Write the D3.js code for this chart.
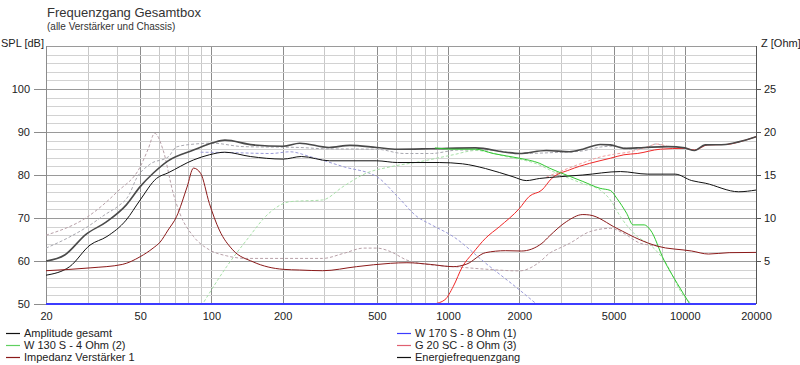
<!DOCTYPE html>
<html><head><meta charset="utf-8">
<script src="https://cdn.jsdelivr.net/npm/d3@7"></script>
<style>
body{margin:0;background:#fff;}
svg text{font-family:"Liberation Sans",Arial,sans-serif;}
</style></head><body>
<svg id="c" width="800" height="365"></svg>
<script>
// ---- data ----
const xTickLabels=[20,50,100,200,500,1000,2000,5000,10000,20000];
const splTicks=[50,60,70,80,90,100];
const zTicks=[5,10,15,20,25];

// SPL curves [Hz, dB]
const ampGesamt=[[20,60],[24,61.4],[29.5,66.2],[36,69.1],[43.6,73],[50,77.3],[56.7,80.4],[65.6,83.3],[84,85.8],[101.6,87.5],[114,88.1],[150,87],[201,86.7],[236,87.4],[314,86.4],[385,86.9],[500,86.4],[611,86],[845,86.1],[1307,86.3],[1750,85.3],[2000,85],[2600,85.7],[3260,85.4],[3710,86],[4390,87.1],[4850,87],[5530,86.2],[6740,86.4],[8500,86.6],[10000,86.3],[11000,85.7],[12200,87],[14900,87.1],[16900,87.7],[20000,88.9]];
const energie=[[20,56.7],[25.2,58.7],[30.7,63.7],[36.2,65.7],[43.6,69.5],[50,74.2],[58.6,79.2],[65.6,80.5],[84,83.5],[98,84.7],[114,85.3],[146,84.3],[201,83.7],[240,84.3],[316,83.3],[500,83.3],[611,82.9],[917,82.9],[1150,82.6],[1440,81.5],[1880,79.6],[2140,78.7],[2440,79.2],[2960,79.6],[3710,80],[5350,80.8],[6980,80.2],[9100,80.2],[10700,78.7],[12200,78.1],[16900,76.1],[20000,76.5]];
const w130=[[880,86.3],[1050,86],[1307,86],[1550,85],[2000,83.9],[2440,82.7],[2680,81.6],[3160,80],[3710,78.5],[4390,76.9],[4850,76.4],[5160,74.6],[5680,71.1],[6050,68.4],[6740,68.4],[7160,67.2],[8170,60.2],[9290,54.8],[10500,50]];
const g20=[[870,50],[970,51],[1050,54],[1150,58.7],[1270,61.8],[1440,65.3],[1650,68],[2000,72.2],[2200,75],[2490,76.5],[2740,79.2],[3260,81.2],[3960,82.7],[4850,83.9],[5530,84.7],[6300,85],[7880,86],[9950,86.2],[11000,85.8],[12500,87],[15000,87.1],[17000,87.7],[20000,88.9]];
const w170=[[20,50],[20000,50]];
// dashed SPL curves
const grayDash=[[20,63],[25,65.5],[30,68],[36,71],[40,72.6],[45,75.5],[48,79],[55,82.5],[66,84.3],[71,86.5],[85,87.2],[101,87.4],[136,86.6],[236,86.4],[300,86.1],[500,86],[650,85],[850,85],[1100,85.8],[1500,85.8],[2000,85],[3000,85.3],[3700,85.6],[4400,86.5],[5000,86.7],[6000,86],[7000,86.5],[7500,87.2],[8500,86.4]];
const blueDash=[[90,85.3],[122,85.2],[178,85],[215,85.4],[260,84.3],[363,81.9],[500,79.6],[611,75],[740,70.3],[845,68.5],[1050,65.7],[1440,59.5],[2000,53.3],[2340,50.2]];
const greenDash=[[93,50.5],[116,58.7],[141,64.9],[175,71.1],[215,73.8],[295,74.2],[360,77.3],[450,80.4],[570,81.9],[760,83.1],[1050,84.7],[1307,85.7],[1750,84.3],[2440,82.3],[2680,81.2],[3710,78],[4390,76.5],[4850,74.2],[5350,70.3],[6300,65.7],[7160,63.7],[8170,60.2],[9950,51.7],[10700,50]];
const redDash=[[2600,79.5],[3200,81.5],[3700,82.8],[4400,84.2],[5000,84.8],[6000,85.5],[7000,86.6],[7600,87.2],[8500,86.6]];
// impedance curves [Hz, Ohm]
const impedanz1=[[20,3.87],[30.7,4.2],[42,4.6],[50,5.5],[56.7,6.5],[60.7,7.2],[65.6,8.6],[71.2,10.15],[78.9,13.6],[84,15.8],[90,15.2],[98,11.7],[108,8.6],[123,6.3],[150,4.9],[201,4.03],[236,3.95],[295,3.87],[410,4.34],[570,4.73],[670,4.8],[845,4.6],[1050,4.34],[1200,4.65],[1440,5.97],[1750,6.2],[2040,6.16],[2490,7.05],[2680,7.9],[3160,9.57],[3710,10.4],[3960,10.35],[5160,8.8],[6500,7.44],[7620,6.74],[10700,6.16],[12600,5.81],[15400,5.97],[20000,6.0]];
const impedanzDash=[[20,8.0],[30,10.15],[40,13.05],[50,15.95],[54,18],[57.6,19.85],[62.5,17.9],[69,12.85],[73.5,10.55],[84,7.85],[98,6.3],[116,5.6],[141,5.3],[295,5.3],[363,5.9],[440,6.5],[500,6.5],[570,6.1],[670,5.1],[845,4.55],[1050,4.35],[1440,4.05],[2000,3.85],[2440,4.9],[2680,5.9],[2960,6.5],[3260,7.05],[3960,8.4],[4850,8.8],[5530,8.2],[6500,7.05],[7160,6.85],[7880,6.75]];

// ---- layout ----
const L=46,R=756,T=46,B=304;
const svg=d3.select("#c");
const x=d3.scaleLog().domain([20,20000]).range([L,R]);
const y=d3.scaleLinear().domain([50,110]).range([B,T]);
const z=d3.scaleLinear().domain([0,30]).range([B,T]);

svg.append("rect").attr("x",0).attr("y",0).attr("width",800).attr("height",365).attr("fill","#fff");

// grid
const vAll=[];
[10,100,1000,10000].forEach(d=>{for(let k=1;k<10;k++){const v=k*d;if(v>=20&&v<=20000)vAll.push(v);}});vAll.push(20000);
const g=svg.append("g");
g.selectAll("line.vg").data(vAll).join("line")
 .attr("x1",d=>Math.round(x(d))+0.5).attr("x2",d=>Math.round(x(d))+0.5).attr("y1",T).attr("y2",B)
 .attr("stroke",d=>xTickLabels.includes(d)?"#8c8c8c":"#c8c8c8").attr("stroke-width",1);
g.selectAll("line.hg").data(d3.range(50,111,2)).join("line")
 .attr("x1",L).attr("x2",R).attr("y1",d=>Math.round(y(d))+0.5).attr("y2",d=>Math.round(y(d))+0.5)
 .attr("stroke",d=>d%10===0?"#9a9a9a":"#d2d2d2").attr("stroke-width",1);

// axes
const fmt=d=>String(d);
const xa=svg.append("g").attr("transform",`translate(0,${B+6})`)
 .call(d3.axisBottom(x).tickValues(xTickLabels).tickFormat(fmt).tickSize(0));
xa.select(".domain").remove();
xa.selectAll("text").attr("fill","#222").attr("font-size","11px").attr("dy","0.6em");

const ya=svg.append("g").attr("transform",`translate(${L},0)`)
 .call(d3.axisLeft(y).tickValues(splTicks).tickFormat(fmt).tickSize(12).tickPadding(4));
ya.select(".domain").remove();
ya.selectAll("line").attr("stroke","#8c8c8c");
ya.selectAll("text").attr("fill","#222").attr("font-size","11px");

const za=svg.append("g").attr("transform",`translate(${R},0)`)
 .call(d3.axisRight(z).tickValues(zTicks).tickFormat(fmt).tickSize(5).tickPadding(3));
za.select(".domain").remove();
za.selectAll("line").attr("stroke","#555");
za.selectAll("text").attr("fill","#222").attr("font-size","11px");

// frame
svg.append("line").attr("x1",L+0.5).attr("x2",L+0.5).attr("y1",T).attr("y2",B).attr("stroke","#8c8c8c");
svg.append("line").attr("x1",R+0.5).attr("x2",R+0.5).attr("y1",T).attr("y2",B).attr("stroke","#555");

// titles
svg.append("text").attr("x",47).attr("y",17).attr("font-size","13px").attr("fill","#333").text("Frequenzgang Gesamtbox");
svg.append("text").attr("x",47).attr("y",30).attr("font-size","10px").attr("fill","#333").text("(alle Verstärker und Chassis)");
svg.append("text").attr("x",1).attr("y",47).attr("font-size","11px").attr("fill","#222").text("SPL [dB]");
svg.append("text").attr("x",761).attr("y",47).attr("font-size","11px").attr("fill","#222").text("Z [Ohm]");

// curves
svg.append("clipPath").attr("id","clip").append("rect").attr("x",L).attr("y",T-1).attr("width",R-L+1).attr("height",B-T+2);
const plot=svg.append("g").attr("clip-path","url(#clip)");
const lineS=d3.line().x(d=>x(d[0])).y(d=>y(d[1])).curve(d3.curveMonotoneX);
const lineZ=d3.line().x(d=>x(d[0])).y(d=>z(d[1])).curve(d3.curveMonotoneX);
const series=[
 {d:impedanzDash,l:lineZ,c:"#b8a0a8",w:1,dash:"3,2"},
 {d:grayDash,l:lineS,c:"#a8a8b0",w:1,dash:"3,2"},
 {d:blueDash,l:lineS,c:"#9a9ad8",w:1,dash:"3,2"},
 {d:greenDash,l:lineS,c:"#a8e0a8",w:1,dash:"3,2"},
 {d:redDash,l:lineS,c:"#f0a0a0",w:1,dash:"3,2"},
 {d:g20,l:lineS,c:"#f02828",w:1},
 {d:ampGesamt,l:lineS,c:"#4a4a4a",w:1.6},
 {d:energie,l:lineS,c:"#111",w:1},
 {d:w130,l:lineS,c:"#30c830",w:1},
 {d:impedanz1,l:lineZ,c:"#8b1a1a",w:1},
 {d:w170,l:lineS,c:"#3c3cff",w:2}
];
series.forEach(s=>{
 plot.append("path").attr("d",s.l(s.d)).attr("fill","none").attr("stroke",s.c)
  .attr("stroke-width",s.w).attr("stroke-dasharray",s.dash||null);
});

// legend
const legend=[
 {t:"Amplitude gesamt",c:"#111",col:0,row:0},
 {t:"W 130 S - 4 Ohm (2)",c:"#60d060",col:0,row:1},
 {t:"Impedanz Verstärker 1",c:"#8b1a1a",col:0,row:2},
 {t:"W 170 S - 8 Ohm (1)",c:"#3c3cff",col:1,row:0},
 {t:"G 20 SC - 8 Ohm (3)",c:"#e06070",col:1,row:1},
 {t:"Energiefrequenzgang",c:"#111",col:1,row:2}
];
const lg=svg.append("g");
legend.forEach(e=>{
 const x0=e.col?397:6, yy=333+e.row*12;
 lg.append("line").attr("x1",x0).attr("x2",x0+14).attr("y1",yy+0.5).attr("y2",yy+0.5).attr("stroke",e.c).attr("stroke-width",1.2);
 lg.append("text").attr("x",x0+18).attr("y",yy+4).attr("font-size","11px").attr("fill","#222").text(e.t);
});
</script>
</body></html>
